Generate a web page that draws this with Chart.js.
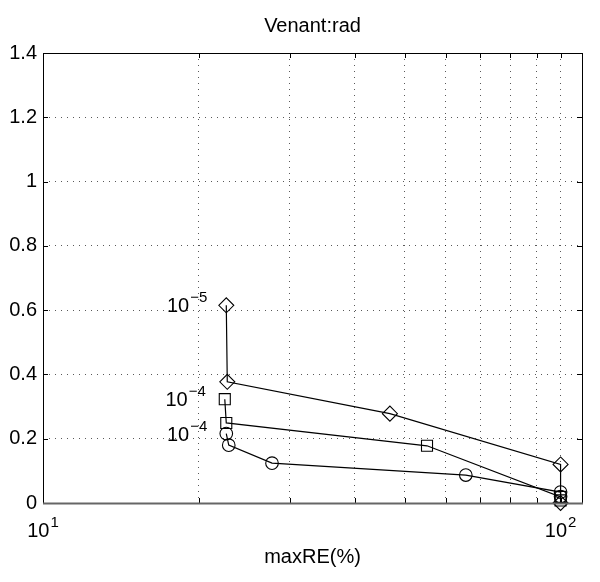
<!DOCTYPE html>
<html>
<head>
<meta charset="utf-8">
<script src="https://cdn.jsdelivr.net/npm/chart.js@4/dist/chart.umd.min.js"></script>
<style>
  html, body { margin: 0; padding: 0; background: #fff; }
  #wrap { width: 600px; height: 582px; }
</style>
</head>
<body>
<div id="wrap"><canvas id="chart"></canvas></div>
<script>
const FONT = "'Liberation Sans', Arial, sans-serif";

// three runs (x = maxRE %, y = value)
const diamondX = [22.6, 22.7, 46.8, 100, 100];
const diamondY = [0.615, 0.377, 0.278, 0.12, 0.0];
const squareX = [22.45, 22.6, 55.2, 100, 100];
const squareY = [0.323, 0.249, 0.178, 0.019, 0.008];
const circleX = [22.6, 22.85, 27.7, 65.6, 100, 100];
const circleY = [0.216, 0.18, 0.124, 0.087, 0.034, 0.02];

// labels written next to the first point of each run: 10^exp
const seriesExp = ['−5', '−4', '−4'];

const chartTitle = 'Venant:rad';
const xTicks = [10, 20, 30, 40, 50, 60, 70, 80, 90, 100];
const xTickExp = {10: '1', 100: '2'};

function pts(xs, ys) {
    return xs.map((x, i) => ({x: x, y: ys[i]}));
}

function makeSet(xs, ys, style, r) {
    return {
        data: pts(xs, ys),
        showLine: true,
        borderColor: '#000',
        borderWidth: 1.2,
        pointStyle: style,
        pointRadius: r,
        pointBorderWidth: 1.1,
        pointBorderColor: '#000',
        pointBackgroundColor: 'rgba(0,0,0,0)',
        clip: false
    };
}

// draws the box, inner tick marks, title, 10^n tick labels and the run labels
const matlabBits = {
    id: 'matlabBits',
    afterDraw(chart) {
        const ctx = chart.ctx;
        const a = chart.chartArea;
        const xs = chart.scales.x, ys = chart.scales.y;
        ctx.save();
        ctx.strokeStyle = '#000';
        ctx.lineWidth = 1;

        // little ticks pointing inwards
        ctx.beginPath();
        xs.ticks.forEach(t => {
            const px = Math.round(xs.getPixelForValue(t.value)) + 0.5;
            ctx.moveTo(px, a.bottom); ctx.lineTo(px, a.bottom - 5);
            ctx.moveTo(px, a.top); ctx.lineTo(px, a.top + 5);
        });
        ys.ticks.forEach(t => {
            const py = Math.round(ys.getPixelForValue(t.value)) + 0.5;
            ctx.moveTo(a.left, py); ctx.lineTo(a.left + 5, py);
            ctx.moveTo(a.right, py); ctx.lineTo(a.right - 5, py);
        });
        ctx.stroke();

        ctx.strokeRect(Math.round(a.left) + 0.5, Math.round(a.top) + 0.5,
            Math.round(a.right - a.left), Math.round(a.bottom - a.top));
        ctx.strokeStyle = '#666';
        ctx.lineWidth = 2;
        ctx.beginPath();
        ctx.moveTo(a.left, a.bottom + 0.5); ctx.lineTo(a.right + 1, a.bottom + 0.5);
        ctx.stroke();

        ctx.fillStyle = '#000';
        ctx.textBaseline = 'alphabetic';

        ctx.font = '20px ' + FONT;
        ctx.textAlign = 'center';
        ctx.fillText(chartTitle, (a.left + a.right) / 2, 32);

        function power(xRight, base, exp, centre) {
            ctx.font = '20px ' + FONT;
            const w1 = ctx.measureText('10').width;
            ctx.font = '15px ' + FONT;
            const w2 = ctx.measureText(exp).width;
            let x0 = centre ? xRight - (w1 + w2 + 1) / 2 : xRight - (w1 + w2 + 1);
            ctx.font = '20px ' + FONT;
            ctx.textAlign = 'left';
            ctx.fillText('10', x0, base);
            ctx.font = '15px ' + FONT;
            ctx.fillText(exp, x0 + w1 + 1, base - 10);
        }

        xs.ticks.forEach(t => {
            const e = xTickExp[t.value];
            if (e) power(xs.getPixelForValue(t.value), a.bottom + 34, e, true);
        });

        [ [diamondX, diamondY], [squareX, squareY], [circleX, circleY] ].forEach((s, i) => {
            const px = xs.getPixelForValue(s[0][0]);
            const py = ys.getPixelForValue(s[1][0]);
            power(px - 19, py + 7, seriesExp[i], false);
        });
        ctx.restore();
    }
};

const gridStyle = {
    color: 'rgba(0,0,0,0.65)',
    lineWidth: 1,
    drawTicks: false
};

new Chart(document.getElementById('chart'), {
    type: 'scatter',
    data: {
        datasets: [
            makeSet(diamondX, diamondY, 'rectRot', 7.5),
            makeSet(squareX, squareY, 'rect', 7.8),
            makeSet(circleX, circleY, 'circle', 6.3)
        ]
    },
    options: {
        responsive: true,
        maintainAspectRatio: false,
        animation: false,
        layout: { padding: { left: 0, right: 18, top: 53, bottom: 0 } },
        plugins: {
            legend: { display: false },
            tooltip: { enabled: false }
        },
        scales: {
            x: {
                type: 'logarithmic',
                min: 10,
                max: 110,
                afterBuildTicks: s => { s.ticks = xTicks.map(v => ({value: v})); },
                afterFit: s => { s.height = 79; },
                ticks: { display: false },
                grid: gridStyle,
                border: { display: false, dash: [1, 5] },
                title: {
                    display: true,
                    text: 'maxRE(%)',
                    color: '#000',
                    font: { family: FONT, size: 20 },
                    padding: { top: 0, bottom: 13 }
                }
            },
            y: {
                min: 0,
                max: 1.4,
                afterFit: s => { s.width = 43; },
                ticks: {
                    stepSize: 0.2,
                    color: '#000',
                    padding: 6,
                    font: { family: FONT, size: 20 },
                    callback: v => String(+v.toFixed(1))
                },
                grid: gridStyle,
                border: { display: false, dash: [1, 5] }
            }
        }
    },
    plugins: [matlabBits]
});
</script>
</body>
</html>
